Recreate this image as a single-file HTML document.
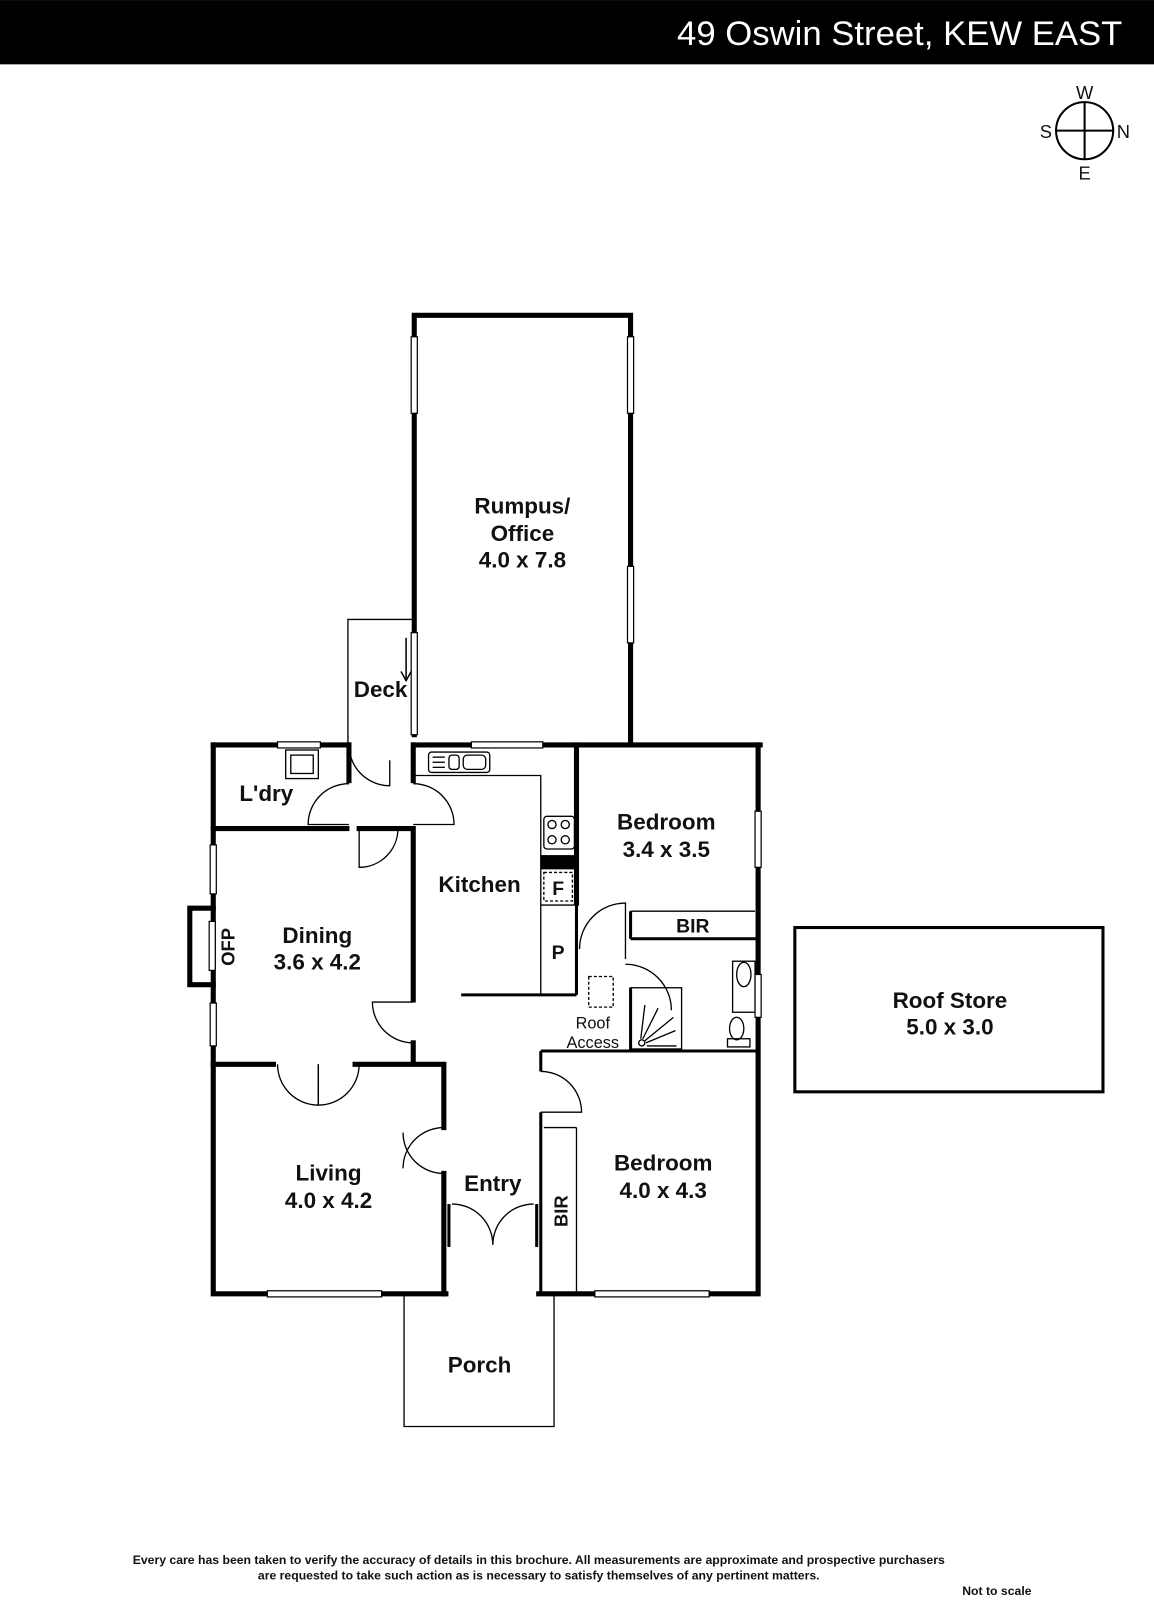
<!DOCTYPE html>
<html><head><meta charset="utf-8"><style>
html,body{margin:0;padding:0;background:#fff;}
svg{display:block;}
text{font-family:"Liberation Sans",sans-serif;font-weight:bold;fill:#111;}
</style></head><body>
<svg width="1154" height="1600" viewBox="0 0 1131 1568" xmlns="http://www.w3.org/2000/svg">
<rect x="0" y="0" width="1131" height="63" fill="#000"/>
<text x="1100" y="44" text-anchor="end" style="fill:#fff;font-weight:normal;font-size:34px">49 Oswin Street, KEW EAST</text>
<g stroke="#000" stroke-width="2" fill="none">
<circle cx="1063" cy="128" r="28"/>
<line x1="1063" y1="100" x2="1063" y2="156"/><line x1="1035" y1="128" x2="1091" y2="128"/>
</g>
<g style="font-size:18px" text-anchor="middle">
<text x="1063" y="97" style="font-weight:normal">W</text><text x="1063" y="176" style="font-weight:normal">E</text>
<text x="1025" y="135" style="font-weight:normal">S</text><text x="1101" y="135" style="font-weight:normal">N</text>
</g>
<g stroke="#000" stroke-width="1.3" fill="none">
<polyline points="406,607 341,607 341,730"/>
<polyline points="396,1268 396,1398 543,1398 543,1268"/>
<polyline points="405,760 530,760 530,975"/>
<rect x="420" y="737" width="60" height="20" rx="3"/>
<line x1="424" y1="742" x2="436" y2="742"/><line x1="424" y1="747" x2="436" y2="747"/><line x1="424" y1="752" x2="436" y2="752"/>
<rect x="440" y="740" width="10" height="14" rx="3"/><rect x="454" y="740" width="22" height="14" rx="4"/>
<rect x="280" y="735" width="32" height="28"/><rect x="285" y="740" width="22" height="18"/>
<rect x="533" y="800" width="30" height="32" rx="3"/>
<circle cx="541" cy="808" r="4"/><circle cx="554" cy="808" r="4"/><circle cx="541" cy="823" r="4"/><circle cx="554" cy="823" r="4"/>
<rect x="533" y="855" width="28" height="28" stroke-dasharray="3,2"/>
<rect x="577" y="957" width="24" height="30" stroke-dasharray="3,2"/>
<polyline points="530,887 563,887"/>
<rect x="618" y="968" width="50" height="60"/>
<path d="M628,1018 L632,985 M630,1018 L645,988 M632,1020 L660,997 M633,1022 L662,1010 M634,1025 L663,1025"/>
<circle cx="629" cy="1022" r="3"/>
<rect x="718" y="942" width="22" height="50"/><ellipse cx="729" cy="955" rx="7" ry="12"/>
<ellipse cx="722" cy="1008" rx="7" ry="11"/><rect x="713" y="1018" width="22" height="8"/>
<polyline points="565,1105 565,1268"/>
<line x1="533" y1="1105" x2="565" y2="1105"/>
<line x1="618" y1="893" x2="740" y2="893"/>
<path d="M342,808 L302,808 A40,40 0 0 1 342,768"/>
<path d="M405,768 A40,40 0 0 1 445,808 L405,808"/>
<path d="M342,730 A40,40 0 0 0 382,770 L382,745"/>
<path d="M352,812 L352,850 A38,38 0 0 0 390,812"/>
<path d="M405,982 L365,982 A40,40 0 0 0 405,1022"/>
<path d="M435,1105 A40,40 0 0 0 395,1145"/>
<path d="M395,1110 A40,40 0 0 0 435,1150"/>
<path d="M312,1043 L312,1083 A40,40 0 0 1 272,1043"/>
<path d="M312,1043 L312,1083 A40,40 0 0 0 352,1043"/>
<path d="M483,1220 A40,40 0 0 0 443,1180 M483,1220 A40,40 0 0 1 523,1180"/>
<path d="M568,930 A45,45 0 0 1 613,885 L613,940"/>
<path d="M613,945 A45,45 0 0 1 658,990"/>
<path d="M530,1050 A40,40 0 0 1 570,1090 L530,1090"/>
</g>
<g stroke="#000" stroke-width="5" fill="none" stroke-linecap="square">
<polyline points="406,720 406,309 618,309 618,728"/>
<polyline points="209,730 341,730"/><polyline points="406,730 745,730"/>
<polyline points="209,730 209,1268 437,1268"/>
<polyline points="528,1268 743,1268 743,730"/>
<polyline points="209,890 186,890 186,965 209,965"/>
<polyline points="209,812 340,812"/><polyline points="352,812 405,812 405,980"/>
<polyline points="405,730 405,765"/>
<polyline points="405,1022 405,1040"/>
<polyline points="209,1043 268,1043"/><polyline points="348,1043 435,1043 435,1105"/>
<polyline points="435,1150 435,1268"/>
<polyline points="342,730 342,765"/>
<polyline points="565,730 565,885"/>
</g>
<g stroke="#000" stroke-width="3" fill="none">
<line x1="452" y1="975" x2="565" y2="975"/>
<line x1="565" y1="885" x2="565" y2="975"/>
<line x1="618" y1="893" x2="618" y2="920"/><line x1="618" y1="920" x2="743" y2="920"/>
<line x1="530" y1="1030" x2="743" y2="1030"/>
<line x1="530" y1="1030" x2="530" y2="1050"/><line x1="530" y1="1090" x2="530" y2="1268"/>
<line x1="618" y1="968" x2="618" y2="1030"/>
<line x1="440" y1="1180" x2="440" y2="1222"/><line x1="526" y1="1180" x2="526" y2="1222"/>
<rect x="779" y="909" width="302" height="161"/>
</g>
<rect x="530" y="838" width="35" height="14" fill="#000"/>
<g fill="#fff" stroke="#000" stroke-width="1.2">
<rect x="403" y="330" width="6" height="75"/><rect x="615" y="330" width="6" height="75"/>
<rect x="615" y="555" width="6" height="75"/><rect x="403" y="620" width="6" height="100"/>
<rect x="272" y="727" width="42" height="6"/><rect x="462" y="727" width="70" height="6"/>
<rect x="206" y="828" width="6" height="48"/><rect x="206" y="983" width="6" height="42"/>
<rect x="740" y="795" width="6" height="55"/><rect x="740" y="955" width="6" height="42"/>
<rect x="262" y="1265" width="112" height="6"/><rect x="583" y="1265" width="112" height="6"/>
<rect x="205" y="903" width="6" height="48"/>
</g>
<line x1="398" y1="625" x2="398" y2="665" stroke="#000" stroke-width="1.5"/><path d="M393,658 L398,667 L403,658" fill="none" stroke="#000" stroke-width="1.5"/>
<g text-anchor="middle" style="font-size:22px">
<text x="512" y="503">Rumpus/</text><text x="512" y="530">Office</text><text x="512" y="556">4.0 x 7.8</text>
<text x="373" y="683">Deck</text>
<text x="261" y="785">L'dry</text>
<text x="470" y="874">Kitchen</text>
<text x="653" y="813">Bedroom</text><text x="653" y="840">3.4 x 3.5</text>
<text x="311" y="924">Dining</text><text x="311" y="950">3.6 x 4.2</text>
<text x="322" y="1157">Living</text><text x="322" y="1184">4.0 x 4.2</text>
<text x="483" y="1167">Entry</text>
<text x="650" y="1147">Bedroom</text><text x="650" y="1174">4.0 x 4.3</text>
<text x="470" y="1345">Porch</text>
<text x="931" y="988">Roof Store</text><text x="931" y="1014">5.0 x 3.0</text>
<text x="679" y="914" style="font-size:19px">BIR</text>
<text x="547" y="877" style="font-size:19px">F</text>
<text x="547" y="940" style="font-size:19px">P</text>
<text x="581" y="1008" style="font-size:16px;font-weight:normal">Roof</text>
<text x="581" y="1027" style="font-size:16px;font-weight:normal">Access</text>
<text transform="translate(230,928) rotate(-90)" style="font-size:18px">OFP</text>
<text transform="translate(556,1187) rotate(-90)" style="font-size:18px">BIR</text>
</g>
<g text-anchor="middle" style="font-size:12px">
<text x="528" y="1533">Every care has been taken to verify the accuracy of details in this brochure.  All measurements are approximate and prospective purchasers</text>
<text x="528" y="1548">are requested to take such action as is necessary to satisfy themselves of any pertinent matters.</text>
<text x="977" y="1563">Not to scale</text>
</g>
</svg>
</body></html>
